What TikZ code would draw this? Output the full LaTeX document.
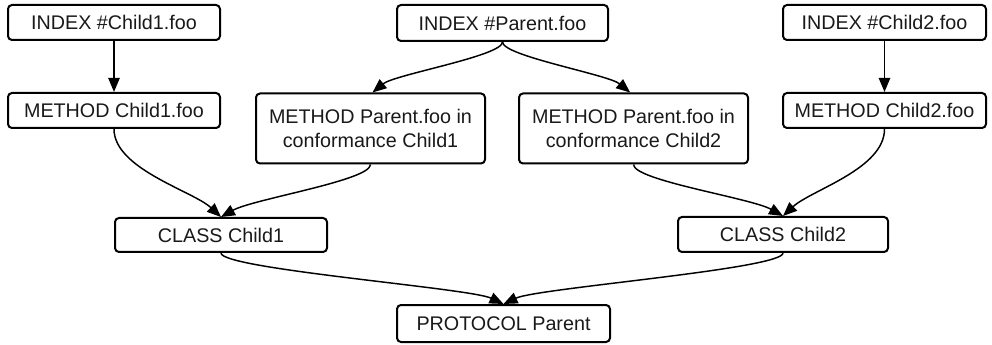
\documentclass[tikz,border=0pt]{standalone}
\usepackage{fontspec}
\setmainfont{Liberation Sans}
\usetikzlibrary{arrows.meta}
\begin{document}
\begin{tikzpicture}[x=0.75pt,y=0.75pt,
  box/.style={draw=black,line width=1.5pt,rounded corners=3pt,align=center,
    inner sep=0pt,font=\fontsize{14.8}{17.5}\selectfont,text=black!90},
  sz/.style 2 args={minimum width=#1*0.75pt,minimum height=#2*0.75pt},
  link/.style={draw=black,line width=1.1pt,-{Triangle[length=10.5pt,width=8.5pt]}}]
\useasboundingbox (0,0) rectangle (992,-345);
% top row
\node[box,sz={212}{35}] (i1) at (114,-22.5) {INDEX \#Child1.foo};
\node[box,sz={211}{36}] (ip) at (502.5,-23) {INDEX \#Parent.foo};
\node[box,sz={203}{35}] (i2) at (884.5,-22.5) {INDEX \#Child2.foo};
% method row
\node[box,sz={212}{35}] (m1) at (114,-110.5) {METHOD Child1.foo};
\node[box,sz={229}{70}] (mp1) at (370.5,-128.5) {METHOD Parent.foo in\\conformance Child1};
\node[box,sz={229}{70}] (mp2) at (633.5,-128.5) {METHOD Parent.foo in\\conformance Child2};
\node[box,sz={203}{35}] (m2) at (884.5,-110.5) {METHOD Child2.foo};
% class row
\node[box,sz={212}{34}] (c1) at (221,-235) {CLASS Child1};
\node[box,sz={210}{35}] (c2) at (783,-234.5) {CLASS Child2};
% protocol
\node[box,sz={213}{37}] (pr) at (503.5,-323.5) {PROTOCOL Parent};
% connectors
\draw[link] (i1.south) -- (m1.north);
\draw[link] (i2.south) -- (m2.north);
\draw[link] (ip.south) .. controls +(0,-14) and +(22,18) .. ([xshift=1.5pt]mp1.north);
\draw[link] (ip.south) .. controls +(0,-14) and +(-22,18) .. ([xshift=-2.5pt]mp2.north);
\draw[link] (m1.south) .. controls +(0,-40) and +(-28,26) .. (c1.north);
\draw[link] (mp1.south) .. controls +(0,-16) and +(32,18) .. (c1.north);
\draw[link] (mp2.south) .. controls +(0,-16) and +(-32,18) .. (c2.north);
\draw[link] (m2.south) .. controls +(0,-40) and +(28,26) .. (c2.north);
\draw[link] (c1.south) .. controls +(0,-16) and +(-34,16) .. (pr.north);
\draw[link] (c2.south) .. controls +(0,-16) and +(34,16) .. (pr.north);
\end{tikzpicture}
\end{document}
